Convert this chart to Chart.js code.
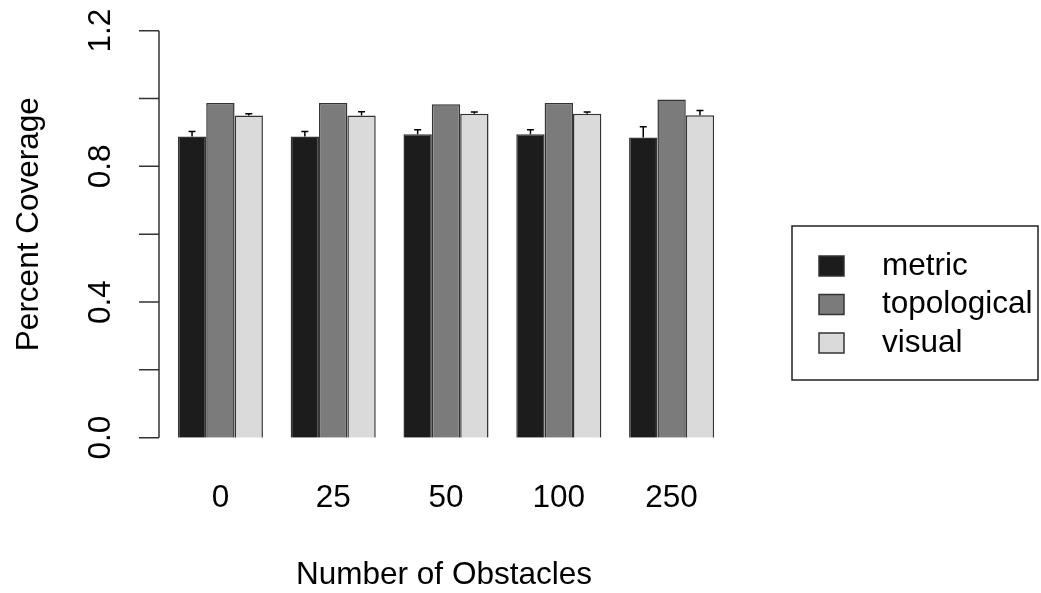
<!DOCTYPE html>
<html>
<head>
<meta charset="utf-8">
<script src="https://cdn.jsdelivr.net/npm/chart.js@4/dist/chart.umd.min.js"></script>
<style>
  html, body { margin: 0; padding: 0; background: #fff; }
  #wrap { width: 1041px; height: 593px; position: relative; }
</style>
</head>
<body>
<div id="wrap"><canvas id="coverageChart"></canvas></div>
<script>
// data
const obstacles = ['0', '25', '50', '100', '250'];
const metric = [0.888, 0.888, 0.895, 0.895, 0.885];
const metricErr = [0.015, 0.015, 0.013, 0.013, 0.032];
const topological = [0.987, 0.987, 0.983, 0.987, 0.997];
const topologicalErr = [0, 0, 0, 0, 0];
const visual = [0.950, 0.950, 0.955, 0.955, 0.951];
const visualErr = [0.005, 0.011, 0.005, 0.005, 0.014];
const yTicks = [0, 0.2, 0.4, 0.6, 0.8, 1.0, 1.2];
const yLabels = ['0.0', '', '0.4', '', '0.8', '', '1.2'];

const FONT = '31.5px "Liberation Sans", Arial, sans-serif';

// R-style axes, titles, error bars and boxed legend
const rStyle = {
  id: 'rStyle',
  afterDatasetsDraw(chart) {
    const ctx = chart.ctx;
    const x = chart.scales.x;
    const y = chart.scales.y;
    const area = chart.chartArea;
    ctx.save();

    // error bars (upper only)
    ctx.strokeStyle = '#000';
    ctx.lineWidth = 1.5;
    chart.data.datasets.forEach((ds, i) => {
      const meta = chart.getDatasetMeta(i);
      meta.data.forEach((bar, j) => {
        const e = ds.err[j];
        if (!e) return;
        const top = y.getPixelForValue(ds.data[j] + e);
        ctx.beginPath();
        ctx.moveTo(bar.x, bar.y);
        ctx.lineTo(bar.x, top);
        ctx.moveTo(bar.x - 3.5, top);
        ctx.lineTo(bar.x + 3.5, top);
        ctx.stroke();
      });
    });

    // y axis
    const ax = area.left - 5;
    ctx.strokeStyle = '#333';
    ctx.lineWidth = 1.5;
    ctx.beginPath();
    ctx.moveTo(ax, y.getPixelForValue(yTicks[0]));
    ctx.lineTo(ax, y.getPixelForValue(yTicks[yTicks.length - 1]));
    yTicks.forEach(v => {
      const py = y.getPixelForValue(v);
      ctx.moveTo(ax - 20, py);
      ctx.lineTo(ax, py);
    });
    ctx.stroke();

    ctx.fillStyle = '#000';
    ctx.font = FONT;
    ctx.textAlign = 'center';
    ctx.textBaseline = 'middle';
    yTicks.forEach((v, k) => {
      if (!yLabels[k]) return;
      ctx.save();
      ctx.translate(101, y.getPixelForValue(v));
      ctx.rotate(-Math.PI / 2);
      ctx.fillText(yLabels[k], 0, 0);
      ctx.restore();
    });

    // y title
    ctx.save();
    ctx.translate(29, (y.getPixelForValue(0) + y.getPixelForValue(1.2)) / 2 - 10);
    ctx.rotate(-Math.PI / 2);
    ctx.fillText('Percent Coverage', 0, 0);
    ctx.restore();

    // x labels and title
    obstacles.forEach((lab, k) => {
      ctx.fillText(lab, x.getPixelForValue(k), 498);
    });
    ctx.fillText('Number of Obstacles', (x.getPixelForValue(0) + x.getPixelForValue(obstacles.length - 1)) / 2 - 2, 575);

    // legend box
    ctx.strokeStyle = '#222';
    ctx.lineWidth = 1.5;
    ctx.strokeRect(792, 226, 246, 154);
    ctx.textAlign = 'left';
    chart.data.datasets.forEach((ds, i) => {
      const cy = 266 + i * 38.5;
      ctx.fillStyle = ds.backgroundColor;
      ctx.fillRect(819, cy - 10, 25, 20);
      ctx.strokeStyle = '#333';
      ctx.strokeRect(819, cy - 10, 25, 20);
      ctx.fillStyle = '#000';
      ctx.fillText(ds.label, 882, cy);
    });

    ctx.restore();
  }
};

const ctx = document.getElementById('coverageChart').getContext('2d');
const coverageChart = new Chart(ctx, {
  type: 'bar',
  data: {
    labels: obstacles,
    datasets: [
      { label: 'metric', data: metric, err: metricErr, backgroundColor: '#1c1c1c' },
      { label: 'topological', data: topological, err: topologicalErr, backgroundColor: '#7b7b7b' },
      { label: 'visual', data: visual, err: visualErr, backgroundColor: '#dadada' }
    ]
  },
  options: {
    responsive: true,
    maintainAspectRatio: false,
    animation: false,
    layout: {
      padding: { left: 164, right: 313, top: 30.7, bottom: 155.3 }
    },
    datasets: {
      bar: {
        barPercentage: 1,
        categoryPercentage: 0.754,
        borderColor: '#333',
        borderWidth: 1.5
      }
    },
    scales: {
      x: { display: false },
      y: { display: false, min: 0, max: 1.2 }
    },
    plugins: {
      legend: { display: false },
      tooltip: { enabled: false }
    }
  },
  plugins: [rStyle]
});
</script>
</body>
</html>
